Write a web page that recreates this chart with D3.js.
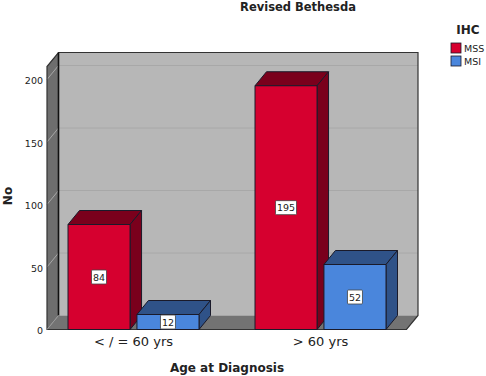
<!DOCTYPE html>
<html lang="en">
<head>
    <meta charset="utf-8">
    <title>Revised Bethesda</title>
    <script src="https://cdn.jsdelivr.net/npm/d3@7"></script>
    <style>
        html, body { margin: 0; background: #fff; }
        svg { display: block; }
        text { font-family: "DejaVu Sans", sans-serif; fill: #222; }
    </style>
</head>
<body>
    <svg width="486" height="376"></svg>
    <script>
        var categories = ["< / = 60 yrs", "> 60 yrs"];
        var seriesNames = ["MSS", "MSI"];
        var mssValues = [84, 195];
        var msiValues = [12, 52];
        var yTicks = [0, 50, 100, 150, 200];
        var seriesColors = ["#d6002f", "#4a86dc"];
        var sideColors = ["#7a001c", "#2f5288"];

        var svg = d3.select("svg");
        var dx = 11.5, dy = -14;   // depth offset of the 3d box
        var plotLeft = 47, plotRight = 406.5, plotBottom = 329.5, plotTop = 66.5;

        var y = d3.scaleLinear().domain([0, 210.4]).range([plotBottom, plotTop]);
        var x0 = d3.scaleBand().domain(categories).range([40, 414]);
        var x1 = d3.scaleBand().domain(seriesNames).range([0, 131]).paddingInner(0.1);

        function poly(pts) {
            return "M" + pts.map(function (p) { return p.join(","); }).join("L") + "Z";
        }

        // walls
        svg.append("path").attr("fill", "#b7b7b7")
            .attr("d", poly([[plotLeft + dx, plotTop + dy], [plotRight + dx, plotTop + dy], [plotRight + dx, plotBottom + dy], [plotLeft + dx, plotBottom + dy]]));
        svg.append("path").attr("fill", "#6e6e6e")
            .attr("d", poly([[plotLeft, plotTop], [plotLeft + dx, plotTop + dy], [plotLeft + dx, plotBottom + dy], [plotLeft, plotBottom]]));
        svg.append("path").attr("fill", "#737373")
            .attr("d", poly([[plotLeft, plotBottom], [plotLeft + dx, plotBottom + dy], [plotRight + dx, plotBottom + dy], [plotRight, plotBottom]]));

        // gridlines
        yTicks.slice(1).forEach(function (t) {
            svg.append("path").attr("fill", "none").attr("stroke", "#a8a8a8").attr("stroke-width", 1)
                .attr("d", "M" + plotLeft + "," + y(t) + "L" + (plotLeft + dx) + "," + (y(t) + dy) + "L" + (plotRight + dx) + "," + (y(t) + dy));
        });

        // box edges
        svg.append("path").attr("fill", "none").attr("stroke", "#333").attr("stroke-width", 1.2)
            .attr("d", "M" + plotLeft + "," + plotBottom + "V" + plotTop + "L" + (plotLeft + dx) + "," + (plotTop + dy) + "H" + (plotRight + dx) + "V" + (plotBottom + dy) + "L" + plotRight + "," + plotBottom + "Z");
        svg.append("line").attr("x1", plotLeft + dx).attr("x2", plotLeft + dx).attr("y1", plotTop + dy).attr("y2", plotBottom + dy)
            .attr("stroke", "#111").attr("stroke-width", 1.6);
        svg.append("line").attr("x1", plotLeft).attr("x2", plotLeft + dx).attr("y1", plotBottom).attr("y2", plotBottom + dy)
            .attr("stroke", "#999").attr("stroke-width", 1);

        // bars
        categories.forEach(function (c, i) {
            [mssValues, msiValues].forEach(function (vals, s) {
                var v = vals[i];
                var xa = x0(c) + (x0.bandwidth() - 131) / 2 + x1(seriesNames[s]);
                var xb = xa + x1.bandwidth();
                var yt = y(v), yb = y(0);
                var g = svg.append("g").attr("stroke", "#1a1a2a").attr("stroke-width", 1).attr("stroke-linejoin", "round");
                g.append("path").attr("fill", sideColors[s])
                    .attr("d", poly([[xa, yt], [xa + dx, yt + dy], [xb + dx, yt + dy], [xb, yt]]));
                g.append("path").attr("fill", sideColors[s])
                    .attr("d", poly([[xb, yt], [xb + dx, yt + dy], [xb + dx, yb + dy], [xb, yb]]));
                g.append("rect").attr("x", xa).attr("y", yt).attr("width", xb - xa).attr("height", yb - yt)
                    .attr("fill", seriesColors[s]);

                var cx = (xa + xb) / 2, cy = (yt + yb) / 2;
                var w = v > 99 ? 21 : 15;
                svg.append("rect").attr("x", cx - w / 2).attr("y", cy - 7).attr("width", w).attr("height", 14)
                    .attr("rx", 1).attr("fill", "#fff").attr("stroke", "#444").attr("stroke-width", 0.8);
                svg.append("text").attr("x", cx).attr("y", cy + 3.5).attr("text-anchor", "middle")
                    .attr("font-size", 9.5).text(v);
            });
        });

        // y axis labels
        var yAxis = svg.append("g").attr("transform", "translate(47,1)")
            .call(d3.axisLeft(y).tickValues(yTicks).tickSize(0).tickPadding(4));
        yAxis.select(".domain").remove();
        yAxis.selectAll("text").style("font-family", '"DejaVu Sans", sans-serif').attr("font-size", 9.5);

        // x axis labels
        var xAxis = svg.append("g").attr("transform", "translate(0,336.5)")
            .call(d3.axisBottom(x0).tickSize(0).tickPadding(0));
        xAxis.select(".domain").remove();
        xAxis.selectAll("text").style("font-family", '"DejaVu Sans", sans-serif').attr("font-size", 13);

        // titles
        svg.append("text").attr("x", 298).attr("y", 11).attr("text-anchor", "middle")
            .attr("font-weight", "bold").attr("font-size", 11.5).text("Revised Bethesda");
        svg.append("text").attr("x", 227).attr("y", 372).attr("text-anchor", "middle")
            .attr("font-weight", "bold").attr("font-size", 12).text("Age at Diagnosis");
        svg.append("text").attr("transform", "translate(12,196) rotate(-90)").attr("text-anchor", "middle")
            .attr("font-weight", "bold").attr("font-size", 12).text("No");

        // legend
        svg.append("text").attr("x", 468).attr("y", 34).attr("text-anchor", "middle")
            .attr("font-weight", "bold").attr("font-size", 12).text("IHC");
        seriesNames.forEach(function (name, i) {
            svg.append("rect").attr("x", 451).attr("y", 43 + i * 13).attr("width", 10).attr("height", 10)
                .attr("fill", seriesColors[i]).attr("stroke", "#1a1a2a").attr("stroke-width", 0.8);
            svg.append("text").attr("x", 464).attr("y", 52 + i * 13).attr("font-size", 9.5).text(name);
        });
    </script>
</body>
</html>
